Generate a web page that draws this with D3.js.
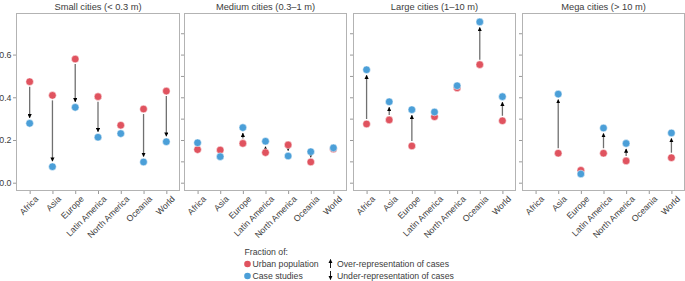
<!DOCTYPE html>
<html><head><meta charset="utf-8">
<script src="https://cdn.jsdelivr.net/npm/d3@7"></script>
<style>body{margin:0;background:#fff}svg{display:block;font-family:"Liberation Sans",Arial,sans-serif}</style>
</head><body><svg id="c" width="685" height="281"></svg>
<script>
const regions = ["Africa","Asia","Europe","Latin America","North America","Oceania","World"];
const panels = ["Small cities (< 0.3 m)","Medium cities (0.3–1 m)","Large cities (1–10 m)","Mega cities (> 10 m)"];
// fraction of urban population (red) and of case studies (blue), per panel, per region
const urbanSmall  = [0.473,0.409,0.579,0.403,0.269,0.345,0.429];
const casesSmall  = [0.278,0.075,0.353,0.213,0.230,0.097,0.192];
const urbanMedium = [0.155,0.153,0.184,0.141,0.177,0.097,0.158];
const casesMedium = [0.187,0.122,0.258,0.194,0.125,0.145,0.163];
const urbanLarge  = [0.275,0.294,0.172,0.309,0.444,0.553,0.290];
const casesLarge  = [0.529,0.379,0.342,0.331,0.454,0.753,0.403];
const urbanMega   = [null,0.138,0.058,0.138,0.102,null,0.117];
const casesMega   = [null,0.415,0.041,0.256,0.184,null,0.233];
const yLabelTicks = [0,0.2,0.4,0.6];
const yMinorTicks = [0,0.1,0.2,0.3,0.4,0.5,0.6,0.7];

const urban = [urbanSmall,urbanMedium,urbanLarge,urbanMega];
const cases = [casesSmall,casesMedium,casesLarge,casesMega];

const RED="#e0535f", BLUE="#4b9fd8", BORDER="#b3b3b3", TXT="#3c3c3c";
const FONT="Liberation Sans, Arial, sans-serif";
const svg = d3.select("#c");
const defs = svg.append("defs");
defs.append("marker").attr("id","ah").attr("viewBox","0 0 10 10").attr("refX",9).attr("refY",5)
  .attr("markerWidth",4.2).attr("markerHeight",4.2).attr("orient","auto-start-reverse").attr("markerUnits","userSpaceOnUse")
  .append("path").attr("d","M0,0L10,5L0,10z").attr("fill","#000");

const panelX = [[16,180],[184,347],[353,516],[522,685]];
const pTop=13, pBottom=191;
const y = d3.scaleLinear().domain([-0.0389,0.7948]).range([pBottom,pTop]);

panels.forEach((title,pi)=>{
  const [x0,x1]=panelX[pi];
  const x = d3.scalePoint().domain(regions).range([x0,x1]).padding(0.6);
  const g = svg.append("g");
  g.append("rect").attr("x",x0+0.5).attr("y",pTop+0.5).attr("width",x1-x0-1).attr("height",pBottom-pTop-1)
    .attr("fill","none").attr("stroke",BORDER).attr("stroke-width",1);
  g.append("text").attr("x",(x0+x1)/2).attr("y",9.5).attr("text-anchor","middle")
    .attr("font-size",9.3).attr("fill",TXT).text(title);
  // y axis
  const ya = pi===0 ? d3.axisLeft(y).tickValues(yLabelTicks).tickFormat(d3.format(".1f")).tickSize(3).tickPadding(1.5)
                    : d3.axisLeft(y).tickValues(yMinorTicks).tickFormat("").tickSize(3);
  const yg = g.append("g").attr("transform",`translate(${x0},0)`).call(ya);
  yg.select(".domain").remove();
  yg.selectAll("line").attr("stroke","#999");
  yg.selectAll("text").attr("font-size",8.8).attr("fill",TXT).attr("font-family",FONT);
  // x axis
  const xa = d3.axisBottom(x).tickSize(3).tickPadding(2);
  const xg = g.append("g").attr("transform",`translate(0,${pBottom})`).call(xa);
  xg.select(".domain").remove();
  xg.selectAll("line").attr("stroke","#999");
  xg.selectAll("text").attr("font-size",8.7).attr("fill",TXT).attr("font-family",FONT)
    .attr("text-anchor","end").attr("dy","0.35em").attr("transform","translate(3,3) rotate(-45)");
  // data
  const data = regions.map((r,i)=>({r,u:urban[pi][i],c:cases[pi][i]})).filter(d=>d.u!=null);
  // arrows
  data.forEach(d=>{
    const yu=y(d.u), yc=y(d.c), dist=Math.abs(yu-yc);
    if(dist<9) return;
    const s=Math.sign(yc-yu);
    g.append("line").attr("x1",x(d.r)).attr("x2",x(d.r))
      .attr("y1",yu+s*5).attr("y2",yc-s*5.5)
      .attr("stroke","#707070").attr("stroke-width",1.3).attr("marker-end","url(#ah)");
  });
  g.selectAll(".u").data(data).join("circle").attr("cx",d=>x(d.r)).attr("cy",d=>y(d.u)).attr("r",3.8)
    .attr("fill",RED).attr("stroke","#fff").attr("stroke-width",0.5);
  g.selectAll(".c").data(data).join("circle").attr("cx",d=>x(d.r)).attr("cy",d=>y(d.c)).attr("r",3.8)
    .attr("fill",BLUE).attr("stroke","#fff").attr("stroke-width",0.5);
});

// legend
const lg = svg.append("g").attr("font-size",8.7).attr("fill",TXT);
lg.append("text").attr("x",244.5).attr("y",254.5).attr("fill",TXT).text("Fraction of:");
lg.append("circle").attr("cx",247.5).attr("cy",264).attr("r",3.3).attr("fill",RED);
lg.append("text").attr("x",252.5).attr("y",267).attr("fill",TXT).text("Urban population");
lg.append("circle").attr("cx",247.5).attr("cy",276).attr("r",3.3).attr("fill",BLUE);
lg.append("text").attr("x",252.5).attr("y",279).attr("fill",TXT).text("Case studies");
lg.append("line").attr("x1",330.5).attr("x2",330.5).attr("y1",268).attr("y2",259.5)
  .attr("stroke","#000").attr("stroke-width",0.9).attr("marker-end","url(#ah)");
lg.append("text").attr("x",337).attr("y",267).attr("fill",TXT).text("Over-representation of cases");
lg.append("line").attr("x1",330.5).attr("x2",330.5).attr("y1",271).attr("y2",279.5)
  .attr("stroke","#000").attr("stroke-width",0.9).attr("marker-end","url(#ah)");
lg.append("text").attr("x",337).attr("y",279).attr("fill",TXT).text("Under-representation of cases");
</script></body></html>
